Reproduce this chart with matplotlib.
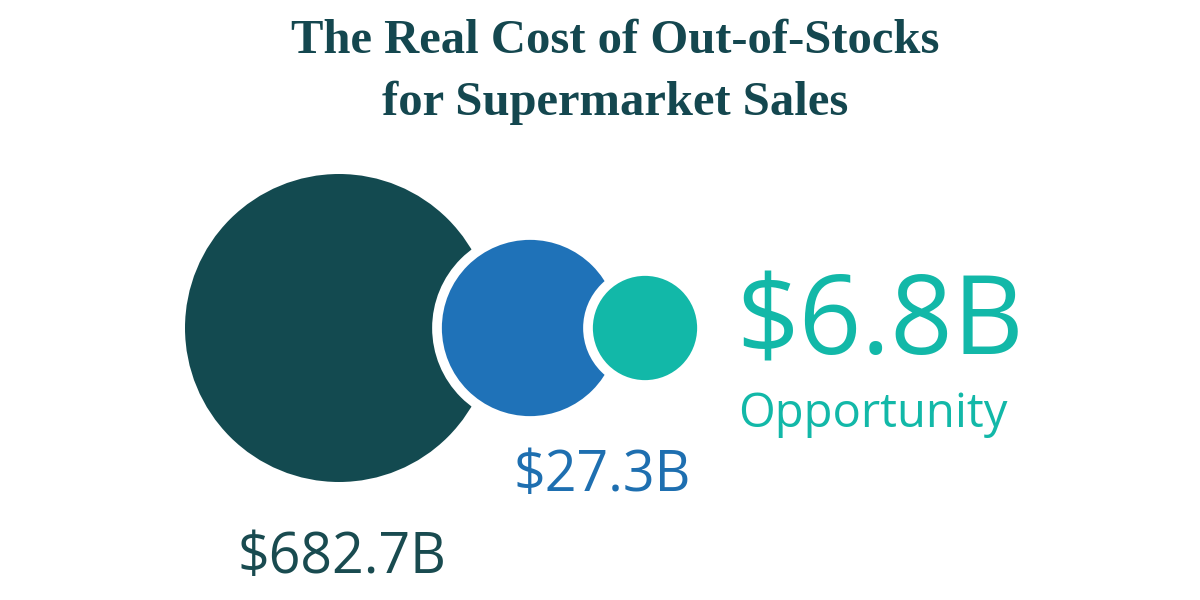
import matplotlib.pyplot as plt
from matplotlib.patches import Circle

# values shown in the chart
labels = ["$682.7B", "$27.3B", "$6.8B"]
values = [682.7, 27.3, 6.8]
sub_label = "Opportunity"
title = "The Real Cost of Out-of-Stocks\nfor Supermarket Sales"

colors = ["#134a50", "#1f72b8", "#12b8a8"]
# circle layout (pixels, stylised sizes - not proportional to values)
centers_x = [339, 530, 645]
radii = [154, 93, 57]
center_y = 328

fig = plt.figure(figsize=(12, 6), dpi=100)
ax = fig.add_axes([0, 0, 1, 1])
ax.set_xlim(0, 1200)
ax.set_ylim(600, 0)
ax.set_aspect("equal")
ax.axis("off")

for i in range(len(values)):
    edge = "white" if i > 0 else "none"
    c = Circle((centers_x[i], center_y), radii[i], facecolor=colors[i],
               edgecolor=edge, linewidth=7 if i > 0 else 0, zorder=2 + i)
    ax.add_patch(c)

font = "Open Sans"
ax.text(342, 558, labels[0], color="#194b50", fontsize=40, family=font,
        ha="center", va="center")
ax.text(602, 476, labels[1], color="#1e6fb0", fontsize=40, family=font,
        ha="center", va="center")
ax.text(736, 326, labels[2], color=colors[2], fontsize=79, family=font,
        ha="left", va="center")
ax.text(738, 414, sub_label, color=colors[2], fontsize=34, family=font,
        ha="left", va="center")

ax.text(615, 72, title, color="#14474f", fontsize=35, family="Liberation Serif",
        weight="bold", ha="center", va="center", linespacing=1.5)

fig.savefig("out.png", dpi=100, facecolor="white")
